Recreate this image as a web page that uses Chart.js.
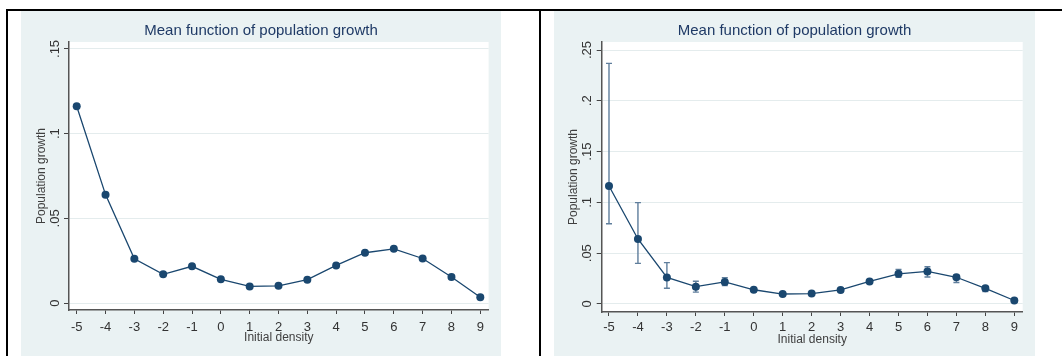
<!DOCTYPE html>
<html>
<head>
<meta charset="utf-8">
<title>Mean function of population growth</title>
<script src="https://cdn.jsdelivr.net/npm/chart.js@4.4.1/dist/chart.umd.min.js"></script>
<style>
    body { margin: 0; background: #fff; }
    #page { position: relative; width: 1062px; height: 356px; overflow: hidden; background: #fff; }
    .rule { position: absolute; background: #000; }
    canvas { position: absolute; }
</style>
</head>
<body>
<div id="page">
    <div class="rule" style="left:6px; top:9px; width:1056px; height:2px;"></div>
    <div class="rule" style="left:6px; top:9px; width:2px; height:347px;"></div>
    <div class="rule" style="left:539px; top:9px; width:2px; height:347px;"></div>
    <canvas id="leftChart" width="480" height="345" style="left:21px; top:11px;"></canvas>
    <canvas id="rightChart" width="481" height="345" style="left:554px; top:11px;"></canvas>
</div>
<script>
// Data
const xValues = [-5, -4, -3, -2, -1, 0, 1, 2, 3, 4, 5, 6, 7, 8, 9];
const meanGrowth = [0.1162, 0.0640, 0.0261, 0.0170, 0.0217, 0.0140, 0.0098, 0.0102, 0.0138, 0.0222, 0.0297, 0.0320, 0.0263, 0.0154, 0.0034];
const ciLow = [0.0790, 0.0400, 0.0155, 0.0117, 0.0182, 0.0128, 0.0088, 0.0092, 0.0126, 0.0207, 0.0262, 0.0265, 0.0212, 0.0122, 0.0021];
const ciHigh = [0.2369, 0.0998, 0.0407, 0.0224, 0.0258, 0.0152, 0.0108, 0.0112, 0.0150, 0.0237, 0.0341, 0.0367, 0.0283, 0.0172, 0.0047];

const xTickLabels = ['-5', '-4', '-3', '-2', '-1', '0', '1', '2', '3', '4', '5', '6', '7', '8', '9'];
const leftYTicks = [0, 0.05, 0.1, 0.15];
const leftYTickLabels = ['0', '.05', '.1', '.15'];
const rightYTicks = [0, 0.05, 0.1, 0.15, 0.2, 0.25];
const rightYTickLabels = ['0', '.05', '.1', '.15', '.2', '.25'];

const chartTitle = 'Mean function of population growth';
const xTitle = 'Initial density';
const yTitle = 'Population growth';

const panelColor = '#eaf2f3';
const navy = '#1a476f';
const capColor = '#5f7e9c';
const fontFamily = '"Liberation Sans", Arial, Helvetica, sans-serif';

// Gray panel with white plot region
const panelBackground = {
    id: 'panelBackground',
    beforeDraw(chart) {
        const { ctx, chartArea } = chart;
        ctx.save();
        ctx.fillStyle = panelColor;
        ctx.fillRect(0, 0, chart.width, chart.height);
        ctx.fillStyle = '#fff';
        ctx.fillRect(chartArea.left, chartArea.top, chartArea.right - chartArea.left, chartArea.bottom - chartArea.top);
        ctx.restore();
    }
};

// Confidence interval caps (rcap)
const errorBars = {
    id: 'errorBars',
    beforeDatasetsDraw(chart, args, opts) {
        if (!opts.show) return;
        const { ctx, scales: { x, y } } = chart;
        ctx.save();
        ctx.strokeStyle = capColor;
        ctx.lineWidth = 1.4;
        xValues.forEach((v, i) => {
            const px = x.getPixelForValue(v);
            const lo = y.getPixelForValue(ciLow[i]);
            const hi = y.getPixelForValue(ciHigh[i]);
            ctx.beginPath();
            ctx.moveTo(px, lo);
            ctx.lineTo(px, hi);
            ctx.moveTo(px - 3, lo);
            ctx.lineTo(px + 3, lo);
            ctx.moveTo(px - 3, hi);
            ctx.lineTo(px + 3, hi);
            ctx.stroke();
        });
        ctx.restore();
    }
};

function makePanel(canvasId, cfg) {
    const ctx = document.getElementById(canvasId).getContext('2d');
    return new Chart(ctx, {
        type: 'line',
        data: {
            datasets: [{
                data: xValues.map((v, i) => ({ x: v, y: meanGrowth[i] })),
                borderColor: navy,
                borderWidth: 1.3,
                backgroundColor: navy,
                pointBackgroundColor: navy,
                pointBorderColor: navy,
                pointRadius: 4,
                pointBorderWidth: 0,
                tension: 0,
                fill: false
            }]
        },
        options: {
            responsive: false,
            animation: false,
            devicePixelRatio: 1,
            layout: { padding: { left: cfg.sidePad, right: cfg.sidePad, top: 0, bottom: 0 } },
            scales: {
                x: {
                    type: 'linear',
                    min: cfg.xMin,
                    max: cfg.xMax,
                    afterBuildTicks: s => { s.ticks = xValues.map(v => ({ value: v })); },
                    afterFit: s => { s.height = cfg.xHeight; },
                    ticks: {
                        callback: (v) => xTickLabels[xValues.indexOf(v)],
                        color: '#333',
                        font: { family: fontFamily, size: 13 },
                        padding: cfg.xTickPad,
                        maxRotation: 0,
                        autoSkip: false
                    },
                    grid: { drawOnChartArea: false, drawTicks: true, tickLength: 4, tickColor: '#444', tickWidth: 1 },
                    border: { display: true, color: '#555', width: 1.5 },
                    title: {
                        display: true,
                        text: xTitle,
                        color: '#404040',
                        font: { family: fontFamily, size: 12 },
                        padding: { top: 0, bottom: cfg.xTitlePad }
                    }
                },
                y: {
                    type: 'linear',
                    min: cfg.yMin,
                    max: cfg.yMax,
                    afterBuildTicks: s => { s.ticks = cfg.yTicks.map(v => ({ value: v })); },
                    afterFit: s => { s.width = cfg.yWidth; },
                    ticks: {
                        callback: (v) => cfg.yTickLabels[cfg.yTicks.indexOf(v)],
                        color: '#333',
                        font: { family: fontFamily, size: 13 },
                        minRotation: 90,
                        maxRotation: 90,
                        crossAlign: 'center',
                        padding: 0
                    },
                    grid: { color: '#e4eced', lineWidth: 1, drawTicks: true, tickLength: 5, tickColor: '#444', tickWidth: 1 },
                    border: { display: true, color: '#555', width: 1.5 },
                    title: {
                        display: true,
                        text: yTitle,
                        color: '#404040',
                        font: { family: fontFamily, size: 12 },
                        padding: { top: cfg.yTitlePad, bottom: 0 }
                    }
                }
            },
            plugins: {
                legend: { display: false },
                tooltip: { enabled: false },
                title: {
                    display: true,
                    text: chartTitle,
                    color: '#1f3a66',
                    font: { family: fontFamily, size: 15, weight: 'normal' },
                    padding: { top: 11, bottom: 2 }
                },
                errorBars: { show: cfg.showErrors }
            }
        },
        plugins: [panelBackground, errorBars]
    });
}

makePanel('leftChart', {
    sidePad: 12.4,
    xMin: -5.267, xMax: 9.288,
    yMin: -0.0041, yMax: 0.1541,
    yTicks: leftYTicks, yTickLabels: leftYTickLabels,
    xHeight: 46, xTickPad: 6, xTitlePad: 11,
    yWidth: 35.6, yTitlePad: 1.4,
    showErrors: false
});

makePanel('rightChart', {
    sidePad: 12.3,
    xMin: -5.252, xMax: 9.29,
    yMin: -0.0079, yMax: 0.2579,
    yTicks: rightYTicks, yTickLabels: rightYTickLabels,
    xHeight: 44, xTickPad: 4, xTitlePad: 9.5,
    yWidth: 35.4, yTitlePad: 0.3,
    showErrors: true
});
</script>
</body>
</html>
